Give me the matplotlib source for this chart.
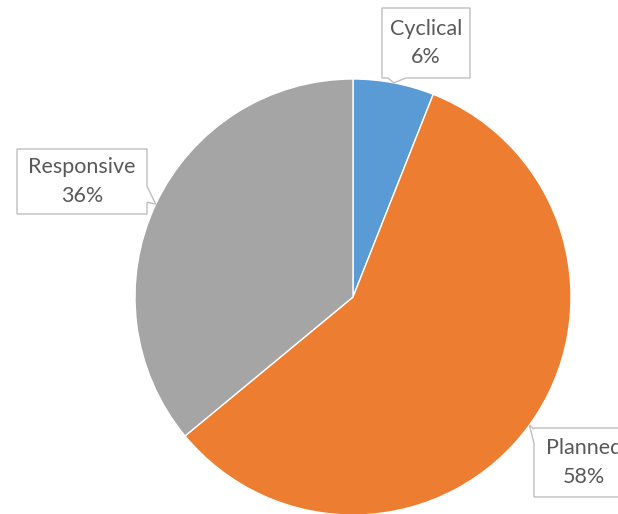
import matplotlib
matplotlib.use("Agg")
import matplotlib.pyplot as plt
import numpy as np
from matplotlib.patches import Polygon

plt.rcParams['font.family'] = ['Lato', 'DejaVu Sans']

# 各类工作占比
categories = ['Cyclical', 'Planned', 'Responsive']
shares = [6, 58, 36]
colors = ['#5B9BD5', '#ED7D31', '#A5A5A5']

W, H = 618, 514
fig = plt.figure(figsize=(W / 100, H / 100), dpi=100)
ax = fig.add_axes([0, 0, 1, 1])

cx, cy, R = 353, H - 297, 218
wedges, _ = ax.pie(shares, colors=colors, startangle=90, counterclock=False,
                   center=(cx, cy), radius=R,
                   wedgeprops=dict(edgecolor='white', linewidth=1))
ax.set_xlim(0, W)
ax.set_ylim(0, H)
ax.set_aspect('equal')
ax.axis('off')

# 标注框: (左, 上, 右, 下) 像素, 尖角所在边
boxes = {
    'Cyclical': ((382, 8, 470, 78), 'bottom'),
    'Planned': ((534, 428, 634, 497), 'left'),
    'Responsive': ((17, 149, 147, 214), 'right'),
}

for w, name, val in zip(wedges, categories, shares):
    mid = np.deg2rad((w.theta1 + w.theta2) / 2)
    tx, ty = cx + R * np.cos(mid), cy + R * np.sin(mid)
    (x0, y0, x1, y1), side = boxes[name]
    top, bot = H - y0, H - y1
    if side == 'bottom':
        pts = [(x0, top), (x1, top), (x1, bot), (tx + 12, bot), (tx, ty),
               (tx - 6, bot), (x0, bot)]
    elif side == 'right':
        pts = [(x0, top), (x1, top), (x1, ty + 18), (tx, ty), (x1, ty + 2),
               (x1, bot), (x0, bot)]
    else:
        pts = [(x0, top), (x1, top), (x1, bot), (x0, bot), (x0, ty - 18),
               (tx, ty), (x0, ty - 4)]
    ax.add_patch(Polygon(pts, closed=True, facecolor='white',
                         edgecolor='#BFBFBF', linewidth=1, zorder=5))
    xc, yc = (x0 + x1) / 2, H - (y0 + y1) / 2
    ax.text(xc, yc, f"{name}\n{val}%", ha='center', va='center',
            fontsize=15.5, color='#595959', linespacing=1.55, zorder=6)

fig.savefig('out.png', dpi=100)
